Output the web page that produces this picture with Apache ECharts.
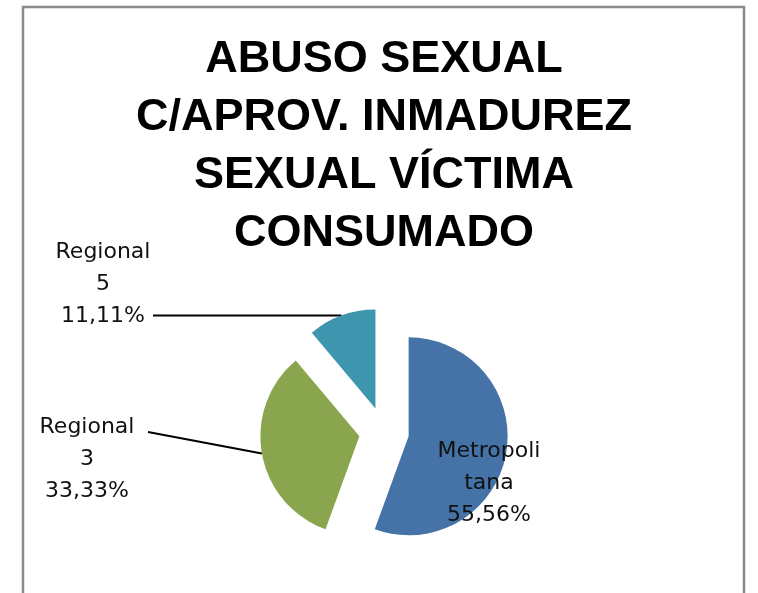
<!DOCTYPE html>
<html>
<head>
<meta charset="utf-8">
<script src="https://cdn.jsdelivr.net/npm/echarts@6/dist/echarts.min.js"></script>
<style>
html,body{margin:0;padding:0;background:#fff;}
#chart{width:758px;height:593px;}
</style>
</head>
<body>
<div id="chart"></div>
<script>
// ---- data ----
const titleLines = ['ABUSO SEXUAL', 'C/APROV. INMADUREZ', 'SEXUAL VÍCTIMA', 'CONSUMADO'];
const categories = ['Metropolitana', 'Regional 3', 'Regional 5'];
const labelNames = ['Metropoli\ntana', 'Regional\n3', 'Regional\n5'];
const values = [5, 3, 1];
const colors = ['#4572A7', '#89A54E', '#3D96AE'];

// ---- layout ----
const CX = 384, CY = 432, R = 99, EXPLODE = 25;
const total = values.reduce((a, b) => a + b, 0);

function pct(v) {
  return (v / total * 100).toFixed(2).replace('.', ',') + '%';
}

function labelLayout(p) {
  const name = categories[p.dataIndex];
  const pts = p.labelLinePoints;
  if (name === 'Metropolitana') {
    return { x: 489, y: 483, align: 'center', verticalAlign: 'middle' };
  }
  if (name === 'Regional 5' && pts) {
    const p0 = pts[0];
    return { x: 103, y: p0[1] + 17, align: 'center', verticalAlign: 'bottom',
             labelLinePoints: [p0, [153, p0[1]]] };
  }
  if (name === 'Regional 3' && pts) {
    const p0 = pts[0];
    return { x: 87, y: 411, align: 'center', verticalAlign: 'top',
             labelLinePoints: [p0, [148, 432]] };
  }
}

const series = [];
let cum = 0;
values.forEach((v, k) => {
  const mid = (cum + v / 2) / total * 2 * Math.PI;
  cum += v;
  const cx = CX + EXPLODE * Math.sin(mid);
  const cy = CY - EXPLODE * Math.cos(mid);
  series.push({
    type: 'pie',
    center: [cx, cy],
    radius: R,
    startAngle: 90,
    clockwise: true,
    avoidLabelOverlap: false,
    silent: true,
    emphasis: { disabled: true },
    animation: false,
    labelLayout: labelLayout,
    data: categories.map((c, i) => {
      const on = i === k;
      return {
        name: c,
        value: values[i],
        itemStyle: { color: on ? colors[i] : 'rgba(0,0,0,0)' },
        label: {
          show: on,
          position: i === 0 ? 'inside' : 'outside',
          formatter: labelNames[i] + '\n' + pct(values[i]),
          fontFamily: 'DejaVu Sans',
          fontSize: 22,
          lineHeight: 32,
          color: '#111',
          align: 'center'
        },
        labelLine: {
          show: on && i !== 0,
          length: 5,
          length2: 100,
          lineStyle: { color: '#000', width: 2 }
        }
      };
    })
  });
});

const chart = echarts.init(document.getElementById('chart'), null, { renderer: 'canvas' });
chart.setOption({
  backgroundColor: '#fff',
  animation: false,
  title: {
    text: titleLines.join('\n'),
    left: 384,
    top: 31,
    textAlign: 'center',
    padding: 0,
    textStyle: {
      fontFamily: 'Liberation Sans',
      fontWeight: 'bold',
      fontSize: 45,
      lineHeight: 58,
      color: '#000'
    }
  },
  graphic: [{
    type: 'rect',
    silent: true,
    z: -1,
    shape: { x: 23, y: 7, width: 721, height: 640 },
    style: { fill: 'none', stroke: '#8a8a8a', lineWidth: 2.5 }
  }],
  series: series
});
</script>
</body>
</html>
